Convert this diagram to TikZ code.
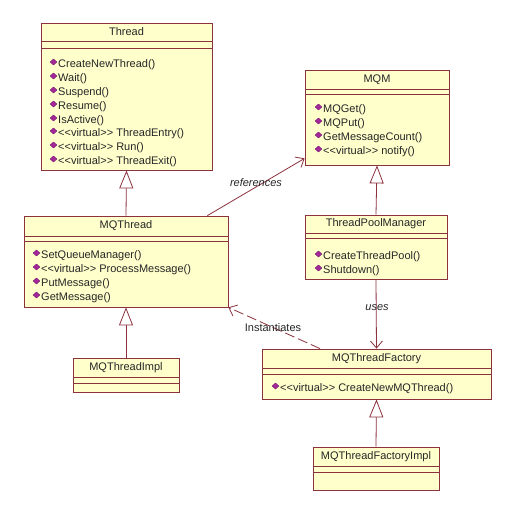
\documentclass[tikz,border=0pt]{standalone}
\usepackage{fontspec}
\setmainfont{Liberation Sans}
\usetikzlibrary{fit,arrows.meta}
\definecolor{boxfill}{RGB}{255,255,204}
\definecolor{boxline}{RGB}{140,50,62}
\definecolor{iconc}{RGB}{165,40,155}
\newcommand\stv{<\kern0pt<virtual>\kern0pt> }
\newcommand\umlclass[8]{%
  \node[classbox, fit={(#2,#3) (#4,#5)}] (#1) {};
  \draw[sepline] (#2,#6) -- (#4,#6) (#2,#7) -- (#4,#7);
  \node[titletext] (#1-title) at ({(#2+#4)/2},{(#3+#6)/2}) {#8};
}
\newcommand\umlmeth[4]{%
  \fill[iconc, draw=iconc!65!black, line width=.3pt] (#2-8,#3-3) -- (#2-4.5,#3-6) -- (#2-1,#3-3) -- (#2-4.5,#3) -- cycle;
  \node[methtext] (#1) at (#2,#3) {#4};
}
\tikzset{
  classbox/.style={draw=boxline, fill=boxfill, line width=.8pt, inner sep=0pt},
  sepline/.style={draw=boxline, line width=.8pt},
  titletext/.style={font=\fontsize{11}{13}\selectfont, inner sep=0pt, text=black!85},
  methtext/.style={font=\fontsize{11}{13}\selectfont, inner sep=0pt, anchor=west, text=black!85},
  lbl/.style={font=\fontsize{11}{13}\selectfont, inner sep=1pt, text=black!85},
  gen/.style={draw=boxline, line width=.8pt, -{Triangle[open, length=18pt, width=14pt, fill=white]}},
  assoc/.style={draw=boxline, line width=.8pt, -{Straight Barb[length=7pt, width=12pt]}},
  dep/.style={assoc, dash pattern=on 10pt off 4pt}
}
\begin{document}
\begin{tikzpicture}[x=1pt, y=-1pt]
\fill[white] (0,0) rectangle (512,507);
\useasboundingbox (0,0) rectangle (512,507);

% Thread
\umlclass{thread}{41}{23}{212}{170}{41}{48}{Thread}
\umlmeth{t1}{58}{65}{CreateNewThread()}
\umlmeth{t2}{58}{79}{Wait()}
\umlmeth{t3}{58}{93}{Suspend()}
\umlmeth{t4}{58}{107}{Resume()}
\umlmeth{t5}{58}{121}{IsActive()}
\umlmeth{t6}{58}{134}{\stv ThreadEntry()}
\umlmeth{t7}{58}{148}{\stv Run()}
\umlmeth{t8}{58}{162}{\stv ThreadExit()}

% MQM
\umlclass{mqm}{305}{70}{449}{165}{89}{94}{MQM}
\umlmeth{m1}{323}{110}{MQGet()}
\umlmeth{m2}{323}{124}{MQPut()}
\umlmeth{m3}{323}{138}{GetMessageCount()}
\umlmeth{m4}{323}{152}{\stv notify()}

% MQThread
\umlclass{mqthread}{24}{216}{228}{307}{236}{241}{MQThread}
\umlmeth{q1}{41}{256}{SetQueueManager()}
\umlmeth{q2}{41}{270}{\stv ProcessMessage()}
\umlmeth{q3}{41}{284}{PutMessage()}
\umlmeth{q4}{41}{298}{GetMessage()}

% ThreadPoolManager
\umlclass{tpm}{305}{215}{447}{279}{233}{238}{ThreadPoolManager}
\umlmeth{p1}{323}{257}{CreateThreadPool()}
\umlmeth{p2}{323}{271}{Shutdown()}

% MQThreadImpl
\umlclass{impl}{73}{358}{179}{392}{377}{383}{MQThreadImpl}

% MQThreadFactory
\umlclass{factory}{262}{349}{491}{399}{368}{374}{MQThreadFactory}
\umlmeth{f1}{280}{389}{\stv CreateNewMQThread()}

% MQThreadFactoryImpl
\umlclass{fimpl}{313}{447}{439}{490}{466}{472}{MQThreadFactoryImpl}

% connectors
\draw[gen] (mqthread.north) -- (thread.south);
\draw[gen] (tpm.north) -- (mqm.south);
\draw[gen] (impl.north) -- (mqthread.south);
\draw[gen] (fimpl.north) -- (factory.south);
\draw[assoc] ([xshift=-21pt]mqthread.north east) -- ([yshift=7pt]mqm.south west);
\draw[assoc] (tpm.south) -- (factory.north);
\draw[dep] ([xshift=-56.5pt]factory.north) -- (mqthread.south east);

% labels
\node[lbl, font=\fontsize{11}{13}\selectfont\itshape] (lref) at (256,183) {references};
\node[lbl, font=\fontsize{11}{13}\selectfont\itshape] (luses) at (377,308) {uses};
\node[lbl] (linst) at (273,328) {Instantiates};
\end{tikzpicture}
\end{document}
